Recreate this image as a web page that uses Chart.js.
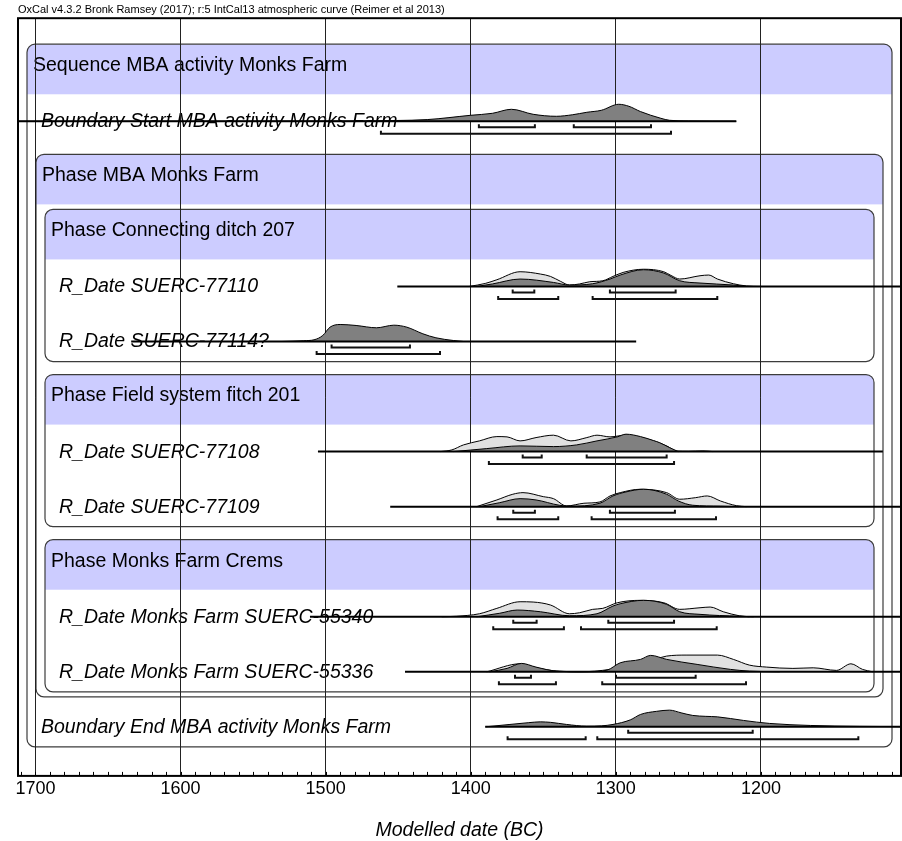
<!DOCTYPE html>
<html>
<head>
<meta charset="utf-8">
<script src="https://cdn.jsdelivr.net/npm/chart.js@4.4.1/dist/chart.umd.min.js"></script>
<style>
  html, body { margin: 0; padding: 0; background: #fff; }
  canvas { display: block; }
</style>
</head>
<body>
<canvas id="oxcal" width="902" height="841"></canvas>
<script>
// rows of the OxCal plot, top to bottom
const rowLabels = [
  'Sequence MBA activity Monks Farm',
  'Boundary Start MBA activity Monks Farm',
  'Phase MBA Monks Farm',
  'Phase Connecting ditch 207',
  'R_Date SUERC-77110',
  'R_Date SUERC-77114?',
  'Phase Field system fitch 201',
  'R_Date SUERC-77108',
  'R_Date SUERC-77109',
  'Phase Monks Farm Crems',
  'R_Date Monks Farm SUERC-55340',
  'R_Date Monks Farm SUERC-55336',
  'Boundary End MBA activity Monks Farm'
];

// grouping boxes: header row, last row inside, nesting depth
const boxes = [
  { first: 0, last: 12, depth: 0 },
  { first: 2, last: 11, depth: 1 },
  { first: 3, last: 5, depth: 2 },
  { first: 6, last: 8, depth: 2 },
  { first: 9, last: 11, depth: 2 }
];

const majorTicks = [1700, 1600, 1500, 1400, 1300, 1200];
const minorStep = 10;

// distributions: [date BC, relative probability]
const startPost = [[1712, 0], [1480, 0.3], [1451, 0.8], [1430, 1.7], [1400, 6], [1385, 8], [1372, 12], [1357, 7], [1341, 5], [1330, 6.5], [1320, 9], [1310, 11], [1298, 17], [1291, 15], [1283, 9.7], [1269, 3], [1263, 1], [1250, 0.3], [1217, 0]];
const start68 = [[1394.4, 1355.8], [1329, 1275.8]];
const start95 = [[1461.9, 1262]];

const s77110Prior = [[1401, 0], [1390, 3], [1382, 6.7], [1366, 14.7], [1352, 12.4], [1345, 10], [1338, 5], [1332, 1.4], [1325, 2.5], [1318, 4.7], [1309, 5.7], [1302, 10], [1295, 14], [1281, 17.2], [1267, 14.7], [1262, 11], [1256, 7.4], [1242, 10.7], [1236, 11.4], [1230, 7.4], [1219, 2.7], [1210, 0.5], [1200, 0]];
const s77110Post = [[1396, 0], [1385, 2.5], [1366, 7.4], [1343, 4], [1332, 1.4], [1316, 2.7], [1304, 7.4], [1297, 11.4], [1281, 16.7], [1267, 13.4], [1256, 5.7], [1242, 3.4], [1219, 1.4], [1210, 0]];
const s77110_68 = [[1371.1, 1356.2], [1304.1, 1258.8]];
const s77110_95 = [[1381.1, 1339.7], [1316, 1230.1]];

const s77114Post = [[1530, 0], [1515, 0.8], [1508, 1.7], [1502, 6], [1497, 14.3], [1490, 17], [1479, 16], [1465, 13.7], [1453, 16.3], [1444, 14.3], [1433, 7.7], [1424, 3.7], [1412, 1], [1405, 0]];
const s77114_68 = [[1495.9, 1441.9]];
const s77114_95 = [[1506.2, 1421.2]];

const s77108Prior = [[1421, 0], [1413, 1.7], [1405, 6.7], [1394, 10.7], [1382, 15], [1375, 14.7], [1366, 10.7], [1355, 14], [1343, 16.4], [1331, 10.7], [1320, 14], [1313, 16.4], [1304, 14.7], [1293, 16.5], [1283, 14], [1274, 10.7], [1265, 5.7], [1258, 0.5], [1250, 0.3], [1240, 0.7], [1233, 0]];
const s77108Post = [[1412, 0], [1389, 3], [1366, 5.7], [1343, 5], [1327, 6.7], [1313, 10.7], [1299, 14.7], [1293, 17.4], [1283, 15], [1274, 11], [1270, 9], [1263, 4], [1257, 0]];
const s77108_68 = [[1364.2, 1351.1], [1320.1, 1265]];
const s77108_95 = [[1387.5, 1259.9]];

const s77109Prior = [[1396, 0], [1382, 6.7], [1371, 12.4], [1364, 14], [1350, 10], [1343, 8], [1334, 0.7], [1322, 3.4], [1311, 4.7], [1304, 10.7], [1297, 14], [1283, 17.4], [1265, 14], [1256, 7.4], [1245, 9], [1237, 10.7], [1228, 5.7], [1217, 1], [1210, 0]];
const s77109Post = [[1394, 0], [1380, 4], [1366, 8], [1355, 6.7], [1339, 1.4], [1332, 0.5], [1311, 3.4], [1302, 10.7], [1293, 14.7], [1281, 17.4], [1265, 12.4], [1257, 5.7], [1247, 1.4], [1228, 0.5], [1215, 0]];
const s77109_68 = [[1370.7, 1355.8], [1304.1, 1259.3]];
const s77109_95 = [[1381.5, 1339.7], [1316.7, 1231]];

const s55340Prior = [[1420, 0], [1410, 0.5], [1394, 3], [1382, 8.4], [1366, 15], [1357, 14.7], [1345, 11.7], [1332, 3], [1325, 4], [1316, 7.4], [1309, 8.4], [1299, 14], [1283, 16.4], [1267, 14], [1256, 7.4], [1242, 9], [1235, 9.7], [1226, 5], [1215, 1], [1208, 0]];
const s55340Post = [[1396, 0], [1380, 3.5], [1368, 6.7], [1352, 5], [1332, 1], [1313, 3], [1302, 10.7], [1297, 13], [1281, 16.4], [1265, 12.4], [1256, 5], [1242, 2.4], [1215, 0.5], [1205, 0]];
const s55340_68 = [[1370.7, 1354.6], [1305.2, 1259.9]];
const s55340_95 = [[1384.5, 1335.8], [1324, 1230.5]];

const s55336Prior = [[1389, 0], [1366, 8], [1355, 4], [1339, 0.5], [1325, 0], [1304, 2.4], [1293, 5.7], [1279, 9], [1265, 15.7], [1251, 16.7], [1230, 16.7], [1219, 12.4], [1208, 6.7], [1196, 4.7], [1178, 3.4], [1164, 4], [1148, 1.4], [1138, 8], [1130, 2.4], [1123, 0]];
const s55336Post = [[1387, 0], [1375, 3.4], [1365, 8.4], [1355, 4.7], [1341, 0.7], [1320, 0], [1306, 1.7], [1297, 9], [1283, 12.4], [1276, 16.4], [1265, 12.4], [1244, 7.4], [1221, 2.4], [1208, 0.7], [1187, 0]];
const s55336_68 = [[1369.5, 1358.5], [1299.9, 1245]];
const s55336_95 = [[1380.6, 1341.3], [1309.4, 1210.3]];

const endPost = [[1390, 0], [1373, 2.4], [1360, 4.2], [1352, 5], [1345, 4.5], [1334, 2.4], [1320, 0.7], [1310, 1], [1302, 2.4], [1290, 7], [1283, 12.4], [1272, 15.5], [1263, 16.7], [1255, 14], [1247, 11.4], [1238, 10.5], [1230, 10], [1212, 6.4], [1194, 3.4], [1166, 1.4], [1132, 0.5], [1104, 0.2]];
const end68 = [[1291.5, 1205.7]];
const end95 = [[1374.6, 1320.8], [1312.8, 1132.9]];

// date ranges of the horizontal lines
const items = [
  { row: 1, range: [1712, 1217], post: startPost, r68: start68, r95: start95 },
  { row: 4, range: [1450.6, 1100], prior: s77110Prior, post: s77110Post, r68: s77110_68, r95: s77110_95 },
  { row: 5, range: [1634, 1286], post: s77114Post, r68: s77114_68, r95: s77114_95 },
  { row: 7, range: [1505.3, 1116], prior: s77108Prior, post: s77108Post, r68: s77108_68, r95: s77108_95 },
  { row: 8, range: [1455.5, 1100], prior: s77109Prior, post: s77109Post, r68: s77109_68, r95: s77109_95 },
  { row: 10, range: [1510.8, 1100], prior: s55340Prior, post: s55340Post, r68: s55340_68, r95: s55340_95 },
  { row: 11, range: [1445.3, 1100], prior: s55336Prior, post: s55336Post, r68: s55336_68, r95: s55336_95 },
  { row: 12, range: [1390, 1100], post: endPost, r68: end68, r95: end95 }
];

const FAMILY = "'Liberation Sans', Arial, sans-serif";
const ROW_PX = 55;            // one row in pixels, y scale is in rows
const BASE = 22 / ROW_PX;     // baseline inside a row
const PROB = 1 / ROW_PX;      // probability unit -> rows
const TICK = 3 / ROW_PX;
const OFF68 = 6 / ROW_PX, OFF95 = 12.5 / ROW_PX;

const base = row => row + BASE;
const curve = (pairs, row) => pairs.map(([d, p]) => ({ x: d, y: base(row) - p * PROB }));

const datasets = [];
items.forEach(it => {
  const b = base(it.row);
  if (it.prior) {
    datasets.push({ data: curve(it.prior, it.row), fill: { value: b }, backgroundColor: '#e1e1e1',
      borderColor: '#000', borderWidth: 1, cubicInterpolationMode: 'monotone', order: 4 });
  }
  datasets.push({ data: curve(it.post, it.row), fill: { value: b }, backgroundColor: '#808080',
    borderColor: '#000', borderWidth: 1, cubicInterpolationMode: 'monotone', order: 3 });
  datasets.push({ data: [{ x: it.range[0], y: b }, { x: it.range[1], y: b }], borderColor: '#000', borderWidth: 2, order: 2 });
  [[it.r68, OFF68], [it.r95, OFF95]].forEach(([ranges, off]) => {
    ranges.forEach(([from, to]) => {
      const y = b + off;
      datasets.push({
        data: [{ x: from, y: y - TICK }, { x: from, y }, { x: to, y }, { x: to, y: y - TICK }],
        borderColor: '#111', borderWidth: 2, order: 1
      });
    });
  });
});

function innerBox(row) {
  let best = null;
  boxes.forEach(b => { if (row > b.first && row <= b.last && (!best || b.depth > best.depth)) best = b; });
  return best;
}

// boxes, header bands and row names behind the grid
const oxcalBoxes = {
  id: 'oxcalBoxes',
  beforeDraw(chart) {
    const { ctx, chartArea: a, scales: { y } } = chart;
    ctx.save();
    boxes.forEach(b => {
      const inset = 9 * (b.depth + 1);
      const left = a.left + inset, right = a.right - inset;
      const top = y.getPixelForValue(b.first);
      const nested = boxes.filter(c => c.depth > b.depth && c.last === b.last && c.first > b.first).length;
      const bottom = y.getPixelForValue(b.last + 1) - 13 + 5 * nested;
      ctx.beginPath();
      ctx.roundRect(left, top, right - left, bottom - top, 8);
      ctx.save();
      ctx.clip();
      ctx.fillStyle = '#ccccff';
      ctx.fillRect(left, top, right - left, y.getPixelForValue(b.first + 50 / ROW_PX) - top);
      ctx.restore();
      ctx.strokeStyle = '#3c3c3c';
      ctx.lineWidth = 1.2;
      ctx.stroke();
    });
    ctx.fillStyle = '#000';
    ctx.textBaseline = 'middle';
    ctx.textAlign = 'left';
    rowLabels.forEach((label, row) => {
      const head = boxes.find(b => b.first === row);
      if (head) {
        ctx.font = `19.5px ${FAMILY}`;
        ctx.fillText(label, a.left + 9 * (head.depth + 1) + 6, y.getPixelForValue(row + 21.5 / ROW_PX));
      } else {
        const parent = innerBox(row);
        ctx.font = `italic 19.5px ${FAMILY}`;
        ctx.fillText(label, a.left + 9 * (parent.depth + 1) + 14, y.getPixelForValue(base(row)) + 0.5);
      }
    });
    ctx.restore();
  },
  afterDatasetsDraw(chart) {
    const { ctx, chartArea: a, scales: { x } } = chart;
    ctx.save();
    ctx.strokeStyle = '#000';
    ctx.lineWidth = 1;
    ctx.beginPath();
    for (let d = Math.ceil(x.min / minorStep) * minorStep; d <= x.max; d += minorStep) {
      const px = Math.round(x.getPixelForValue(d)) + 0.5;
      ctx.moveTo(px, a.bottom);
      ctx.lineTo(px, a.bottom - 4);
    }
    ctx.stroke();
    ctx.lineWidth = 2;
    ctx.strokeRect(a.left, a.top, a.right - a.left, a.bottom - a.top);
    ctx.restore();
  }
};

new Chart(document.getElementById('oxcal'), {
  type: 'line',
  data: { datasets },
  options: {
    responsive: false,
    animation: false,
    events: [],
    layout: { padding: { left: 18, right: 1, top: 0, bottom: 0 } },
    elements: { point: { radius: 0 }, line: { tension: 0 } },
    scales: {
      x: {
        type: 'linear',
        reverse: true,
        min: 1103.5,
        max: 1712,
        afterBuildTicks: s => { s.ticks = majorTicks.map(v => ({ value: v })); },
        grid: { color: '#222', lineWidth: 1, drawTicks: false },
        border: { display: false },
        ticks: {
          color: '#000', padding: 2, maxRotation: 0, autoSkip: false,
          font: { family: FAMILY, size: 18 },
          callback: v => String(v)
        },
        title: {
          display: true, text: 'Modelled date (BC)', color: '#000',
          font: { family: FAMILY, size: 19.5, style: 'italic', lineHeight: 1 },
          padding: { top: 19, bottom: 1 }
        }
      },
      y: { type: 'linear', reverse: true, min: -26 / ROW_PX, max: 731 / ROW_PX, display: false }
    },
    plugins: {
      legend: { display: false },
      tooltip: { enabled: false },
      title: {
        display: true, align: 'start', color: '#000',
        text: 'OxCal v4.3.2 Bronk Ramsey (2017); r:5 IntCal13 atmospheric curve (Reimer et al 2013)',
        font: { family: FAMILY, size: 11, weight: 'normal' }, padding: { top: 3, bottom: 2 }
      }
    }
  },
  plugins: [oxcalBoxes]
});
</script>
</body>
</html>
